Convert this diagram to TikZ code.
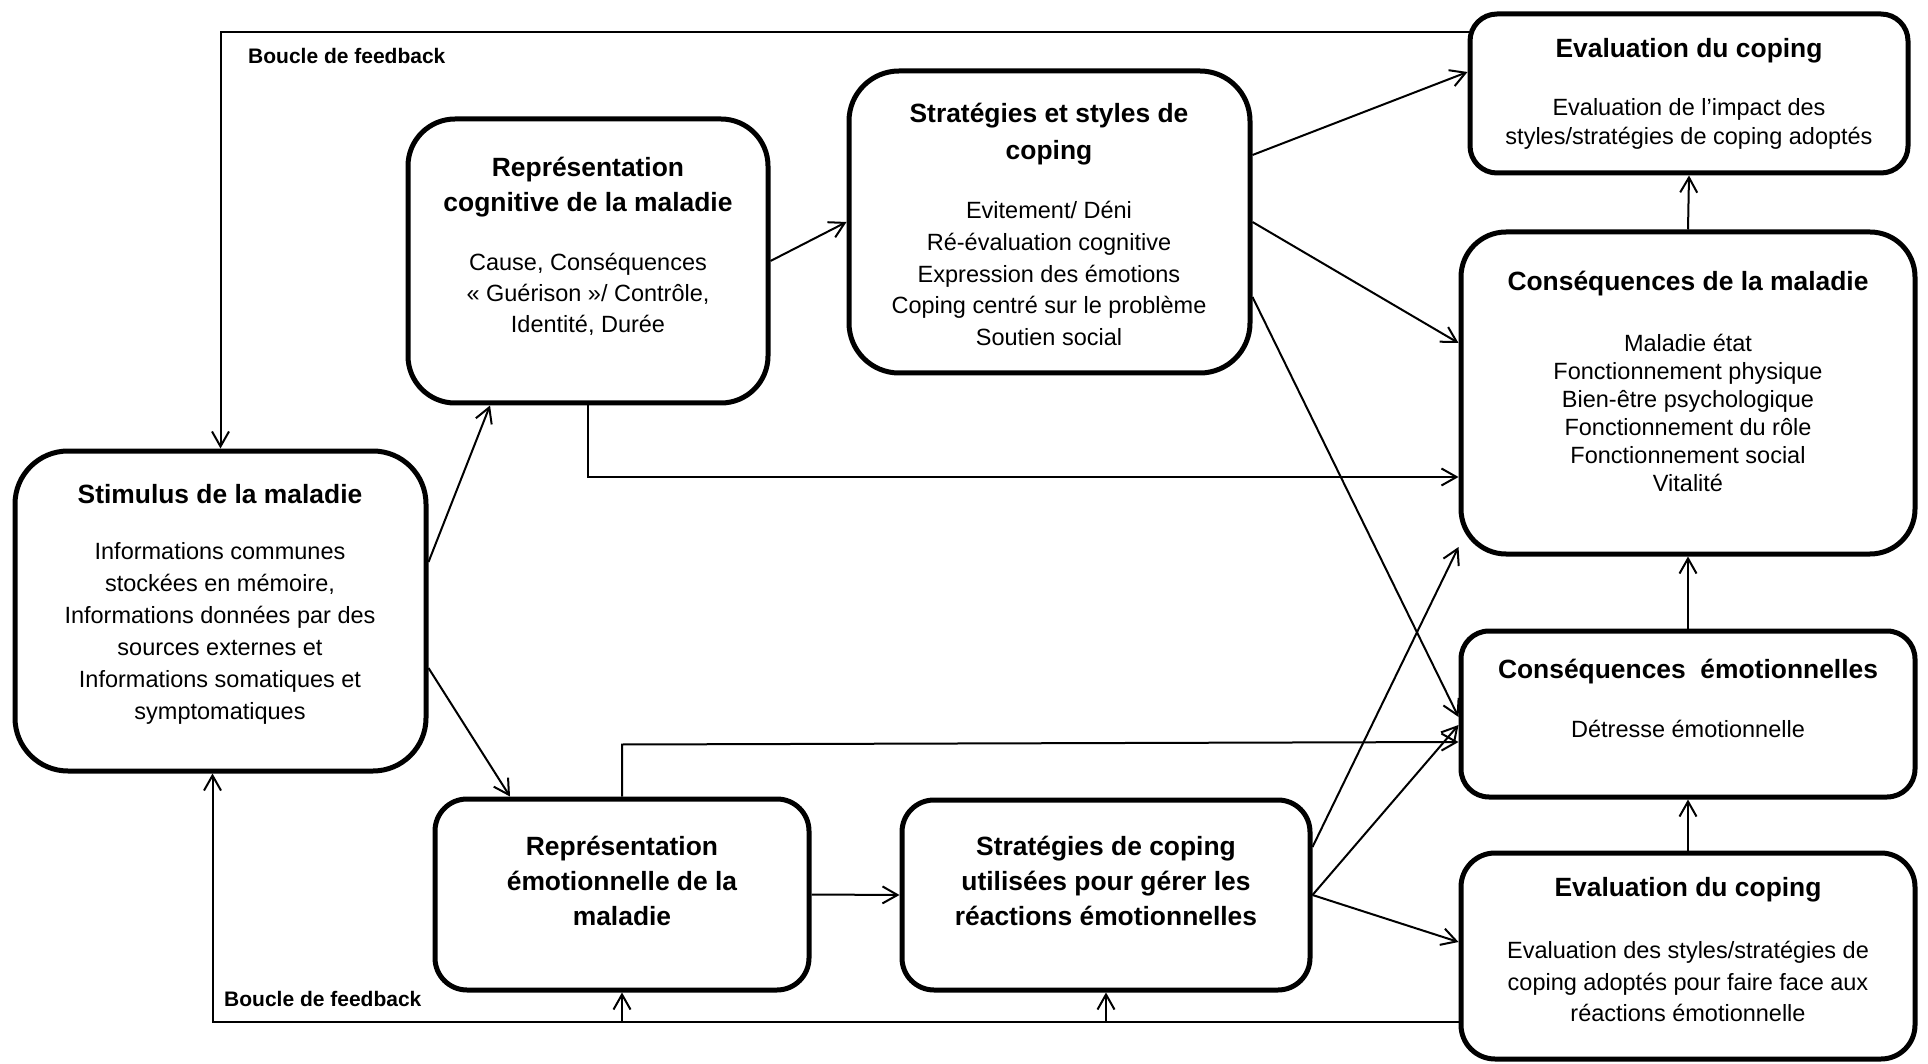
\documentclass[tikz,border=0pt]{standalone}
\usepackage{fontspec}
\setmainfont{Liberation Sans}
\usetikzlibrary{arrows.meta,calc}
\begin{document}
\begin{tikzpicture}[x=1pt,y=-1pt,
  box/.style={draw, line width=5pt, rounded corners=#1, inner sep=0pt},
  ttl/.style={font={\fontsize{26.4}{#1}\selectfont\bfseries}, align=center, inner sep=0pt},
  body/.style={font={\fontsize{23.5}{#1}\selectfont}, align=center, inner sep=0pt},
  lbl/.style={font={\fontsize{21}{24}\selectfont\bfseries}, inner sep=0pt},
  arr/.style={line width=2pt, -{Straight Barb[length=15pt,width=17pt,line width=2pt]}}]
\useasboundingbox (0,0) rectangle (1928,1064);
% boxes
\node[box=53pt, minimum width=411pt, minimum height=320pt] (stim) at (220.5,611) {};
\node[box=47pt, minimum width=360pt, minimum height=284pt] (cog) at (588,261) {};
\node[box=50pt, minimum width=401pt, minimum height=302pt] (strat) at (1049.5,222) {};
\node[box=27pt, minimum width=438pt, minimum height=159pt] (evtop) at (1689,93.5) {};
\node[box=45pt, minimum width=454pt, minimum height=322pt] (consm) at (1688,393) {};
\node[box=28pt, minimum width=454pt, minimum height=166pt] (conse) at (1688,714) {};
\node[box=34pt, minimum width=454pt, minimum height=206pt] (evbot) at (1688,956) {};
\node[box=32pt, minimum width=374pt, minimum height=191pt] (repe) at (622,894.5) {};
\node[box=32pt, minimum width=408pt, minimum height=190pt] (cope) at (1106,895) {};
% texts
\node[ttl=35pt] (stim-t) at (220,494) {Stimulus de la maladie};
\node[body=32pt] (stim-b) at (220,633) {Informations communes\\stockées en mémoire,\\Informations données par des\\sources externes et\\Informations somatiques et\\symptomatiques};
\node[ttl=35pt] (cog-t) at (588,187) {Représentation\\cognitive de la maladie};
\node[body=31pt] (cog-b) at (588,294) {Cause, Conséquences\\« Guérison »/ Contrôle,\\Identité, Durée};
\node[ttl=37pt] (strat-t) at (1049,134) {Stratégies et styles de\\coping};
\node[body=31.7pt] (strat-b) at (1049,273.5) {Evitement/ Déni\\Ré-évaluation cognitive\\Expression des émotions\\Coping centré sur le problème\\Soutien social};
\node[ttl=35pt] (evtop-t) at (1689,51) {Evaluation du coping};
\node[body=29pt] (evtop-b) at (1689,124) {Evaluation de l’impact des\\styles/stratégies de coping adoptés};
\node[ttl=35pt] (consm-t) at (1688,284) {Conséquences de la maladie};
\node[body=28pt] (consm-b) at (1688,413) {Maladie état\\Fonctionnement physique\\Bien-être psychologique\\Fonctionnement du rôle\\Fonctionnement social\\Vitalité};
\node[ttl=35pt] (conse-t) at (1688,672) {Conséquences~ émotionnelles};
\node[body=31pt] (conse-b) at (1688,729) {Détresse émotionnelle};
\node[ttl=35pt] (evbot-t) at (1688,890) {Evaluation du coping};
\node[body=31.5pt] (evbot-b) at (1688,981.5) {Evaluation des styles/stratégies de\\coping adoptés pour faire face aux\\réactions émotionnelle};
\node[ttl=35pt] (repe-t) at (622,881) {Représentation\\émotionnelle de la\\maladie};
\node[ttl=35pt] (cope-t) at (1106,881) {Stratégies de coping\\utilisées pour gérer les\\réactions émotionnelles};
\node[lbl, anchor=west] (fb1) at (248,56) {Boucle de feedback};
\node[lbl, anchor=west] (fb2) at (224,999) {Boucle de feedback};
% connectors
\coordinate (fbA) at ($(evtop.west)+(2,-61.5)$);
\draw[arr] (fbA) -| (stim.north);
\draw[arr] ($(stim.east)+(0,-49)$) -- ($(cog.south)+(-98,0)$);
\draw[arr] ($(stim.east)+(0,57)$) -- ($(repe.north)+(-112,0)$);
\draw[arr] (cog.east) -- (strat.west);
\draw[arr] (cog.south) |- ($(consm.west)+(0,84)$);
\draw[arr] ($(strat.east)+(0,-67)$) -- ($(evtop.west)+(0,-21.5)$);
\draw[arr] (strat.east) -- ($(consm.west)+(0,-50)$);
\draw[arr] ($(strat.east)+(0,75)$) -- ($(conse.west)+(0,3)$);
\draw[arr] (repe.east) -- (cope.west);
\draw[arr] (repe.north) -- ($(repe.north)+(0,-52)$) -- ($(conse.west)+(0,28)$);
\draw[arr] ($(cope.east)+(0,-48)$) -- ($(consm.west)+(0,154)$);
\draw[arr] (cope.east) -- ($(conse.west)+(0,11)$);
\draw[arr] (cope.east) -- ($(evbot.west)+(0,-14)$);
\draw[arr] (conse.north) -- (consm.south);
\draw[arr] (evbot.north) -- (conse.south);
\draw[arr] (consm.north) -- (evtop.south);
\coordinate (fbB) at ($(evbot.west)+(0,66)$);
\draw[arr] (fbB) -| ($(stim.south)+(-8,0)$);
\draw[arr] (repe.south |- fbB) -- (repe.south);
\draw[arr] (cope.south |- fbB) -- (cope.south);
\end{tikzpicture}
\end{document}
